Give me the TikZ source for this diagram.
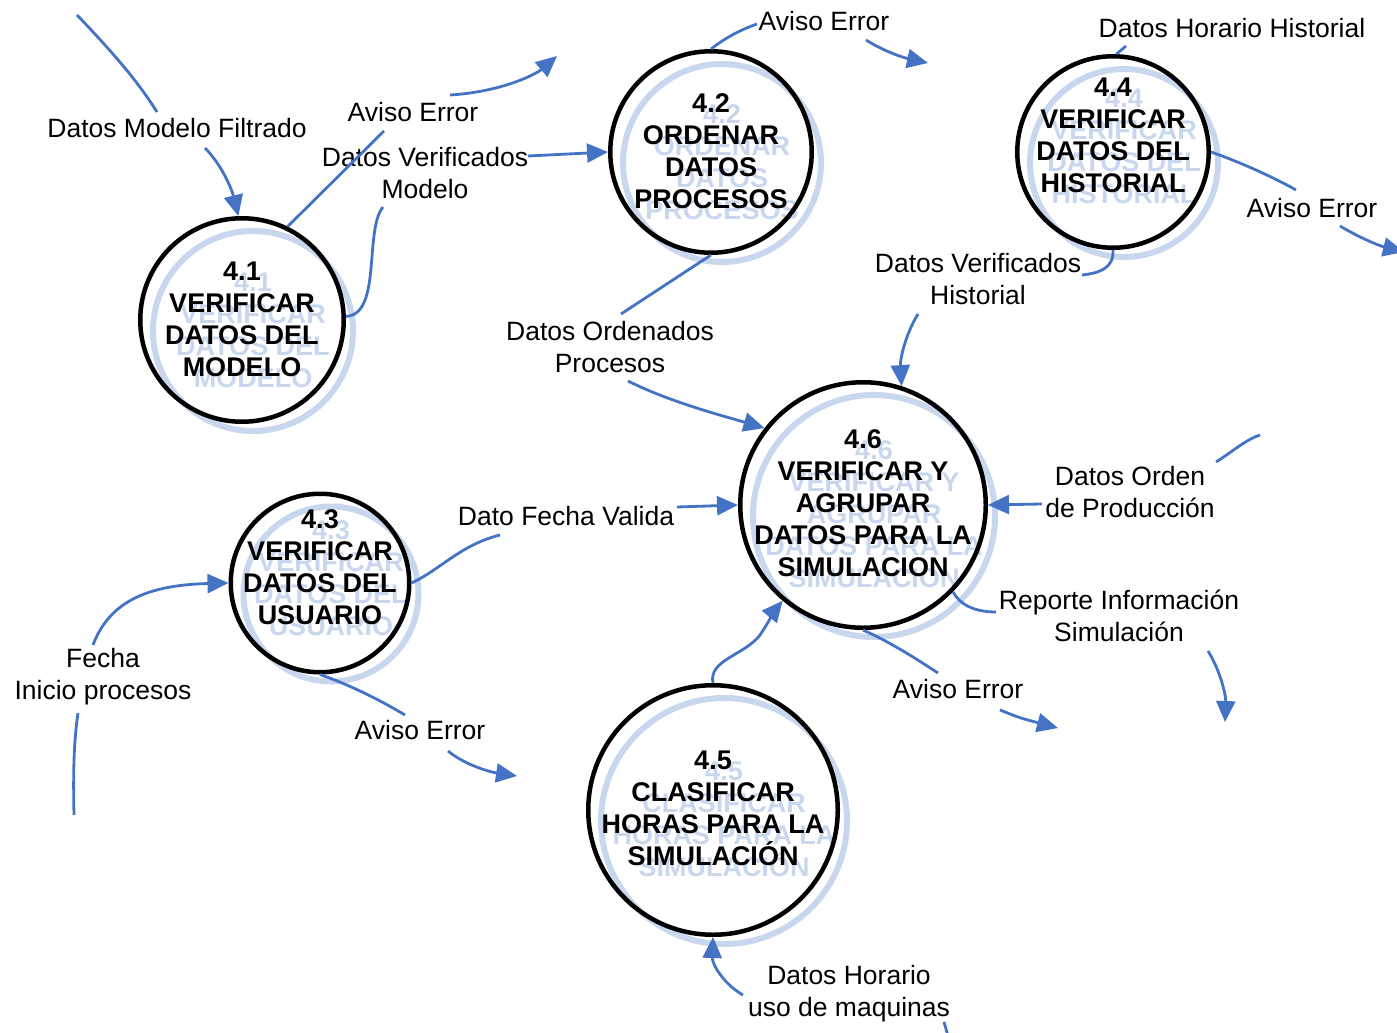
\documentclass[tikz,border=0pt]{standalone}
\usepackage{fontspec}
\setmainfont{Liberation Sans}
\usetikzlibrary{arrows.meta}
\definecolor{flowblue}{RGB}{68,114,196}
\definecolor{ghostblue}{RGB}{200,215,238}

\tikzset{
  flowline/.style={draw=flowblue, line width=2.8pt},
  flowarrow/.style={flowline, -{Triangle[length=21pt,width=19pt]}},
  lbl/.style={font=\fontsize{26.5}{32}\selectfont, align=center, inner sep=0pt},
  proc/.style={circle, draw=black, line width=4.5pt, inner sep=0pt},
  ptext/.style={font=\fontsize{27}{32}\selectfont\bfseries, align=center, inner sep=0pt},
  ghostring/.style={circle, draw=ghostblue, line width=6pt, inner sep=0pt},
}

% process bubble: name, centre x, centre y, outer radius, text centre y, text
\newcommand\procnode[6]{%
  \node[ghostring, minimum size={2*#4-8}] at (#2+11,#3+11) {};
  \node[ptext, text=ghostblue] at (#2+11,#5+11) {#6};
  \node[proc, minimum size={2*#4-4.5}] (#1) at (#2,#3) {};
  \node[ptext] (#1t) at (#2,#5) {#6};
}

\begin{document}
\begin{tikzpicture}[x=1pt, y=-1pt]
\useasboundingbox (0,0) rectangle (1397,1033);

% processes
\procnode{p41}{242}{320}{104}{319}{4.1\\VERIFICAR\\DATOS DEL\\MODELO}
\procnode{p42}{711}{152}{103}{151}{4.2\\ORDENAR\\DATOS\\PROCESOS}
\procnode{p44}{1113}{152}{98}{135}{4.4\\VERIFICAR\\DATOS DEL\\HISTORIAL}
\procnode{p46}{863}{505}{125}{503}{4.6\\VERIFICAR Y\\AGRUPAR\\DATOS PARA LA\\SIMULACION}
\procnode{p43}{320}{583}{91.5}{567}{4.3\\VERIFICAR\\DATOS DEL\\USUARIO}
\procnode{p45}{713}{810}{127}{808}{4.5\\CLASIFICAR\\HORAS PARA LA\\SIMULACIÓN}

% flow labels
\node[lbl] (lModFil) at (177,128) {Datos Modelo Filtrado};
\node[lbl] (lErr1) at (413,112) {Aviso Error};
\node[lbl] (lVerMod) at (425,173) {Datos Verificados\\Modelo};
\node[lbl] (lErr2) at (824,21) {Aviso Error};
\node[lbl] (lOrdProc) at (610,347) {Datos Ordenados\\Procesos};
\node[lbl] (lHorHist) at (1232,28) {Datos Horario Historial};
\node[lbl] (lErr4) at (1312,208) {Aviso Error};
\node[lbl] (lVerHist) at (978,279) {Datos Verificados\\Historial};
\node[lbl] (lOrdenProd) at (1130,492) {Datos Orden\\de Producción};
\node[lbl] (lReporte) at (1119,616) {Reporte Información\\Simulación};
\node[lbl] (lErr6) at (958,689) {Aviso Error};
\node[lbl] (lFechaVal) at (566,516) {Dato Fecha Valida};
\node[lbl] (lFechaIni) at (103,677) {Fecha\\Inicio procesos};
\node[lbl] (lErr3) at (420,730) {Aviso Error};
\node[lbl] (lHorMaq) at (849,994) {Datos Horario\\uso de maquinas};

% free ends of the flows
\coordinate (inModFil) at (77,15);
\coordinate (outErr1) at (557,56);
\coordinate (outErr2) at (928,63);
\coordinate (outErr4) at (1404,252);
\coordinate (inOrdenProd) at (1260,435);
\coordinate (outReporte) at (1225,722);
\coordinate (outErr6) at (1058,728);
\coordinate (inFechaIni) at (74,815);
\coordinate (outErr3) at (517,776);
\coordinate (inHorMaq) at (948,1036);

% Datos Modelo Filtrado -> 4.1
\draw[flowline] (inModFil) .. controls (120,60) and (140,85) .. (157,112);
\draw[flowarrow] (205,148) .. controls (222,165) and (232,190) .. (p41.92);

% 4.1 -> Aviso Error
\draw[flowline] (p41.64) -- (384,131);
\draw[flowarrow] (450,95) .. controls (500,92) and (535,75) .. (outErr1);

% 4.1 -> 4.2
\draw[flowline] (p41.2) .. controls (382,315) and (364,230) .. (383,207);
\draw[flowarrow] (528,156) -- (p42.180);

% 4.2 -> Aviso Error
\draw[flowline] (p42.90) .. controls (725,38) and (740,30) .. (757,24);
\draw[flowarrow] (866,40) .. controls (885,52) and (905,58) .. (outErr2);

% 4.2 -> 4.6
\draw[flowline] (p42.270) -- (621,314);
\draw[flowarrow] (628,381) .. controls (670,402) and (720,415) .. (p46.142);

% Datos Horario Historial -> 4.4
\draw[flowline] (p44.88) -- (1126,46);

% 4.4 -> Aviso Error
\draw[flowline] (p44.0) .. controls (1240,162) and (1275,178) .. (1296,190);
\draw[flowarrow] (1340,226) .. controls (1360,238) and (1380,246) .. (outErr4);

% 4.4 -> 4.6
\draw[flowline] (p44.270) .. controls (1114,268) and (1100,273) .. (1082,275);
\draw[flowarrow] (918,314) .. controls (905,335) and (900,360) .. (p46.72);

% Datos Orden de Produccion -> 4.6
\draw[flowline] (inOrdenProd) .. controls (1245,440) and (1232,452) .. (1216,462);
\draw[flowarrow] (1042,504) -- (p46.0);

% 4.6 -> Reporte Informacion Simulacion
\draw[flowline] (p46.-44) .. controls (960,605) and (975,612) .. (996,612);
\draw[flowarrow] (1208,651) .. controls (1220,670) and (1226,695) .. (outReporte);

% 4.6 -> Aviso Error
\draw[flowline] (p46.270) .. controls (890,642) and (915,658) .. (938,673);
\draw[flowarrow] (1000,710) .. controls (1020,718) .. (outErr6);

% 4.3 -> 4.6
\draw[flowline] (p43.0) .. controls (440,570) and (460,545) .. (500,535);
\draw[flowarrow] (677,507) -- (p46.180);

% Fecha Inicio procesos -> 4.3
\draw[flowline] (inFechaIni) .. controls (73,770) and (74,740) .. (78,713);
\draw[flowarrow] (93,645) .. controls (110,600) and (150,585) .. (p43.180);

% 4.3 -> Aviso Error
\draw[flowline] (p43.270) .. controls (350,685) and (380,700) .. (405,715);
\draw[flowarrow] (448,751) .. controls (465,765) and (490,772) .. (outErr3);

% 4.5 -> 4.6
\draw[flowarrow] (p45.90) .. controls (708,660) and (745,655) .. (760,635) .. controls (770,620) and (775,610) .. (p46.-130);

% Datos Horario uso de maquinas -> 4.5
\draw[flowarrow] (743,995) .. controls (725,985) and (712,965) .. (p45.270);
\draw[flowline] (944,1022) -- (inHorMaq);
\end{tikzpicture}
\end{document}
